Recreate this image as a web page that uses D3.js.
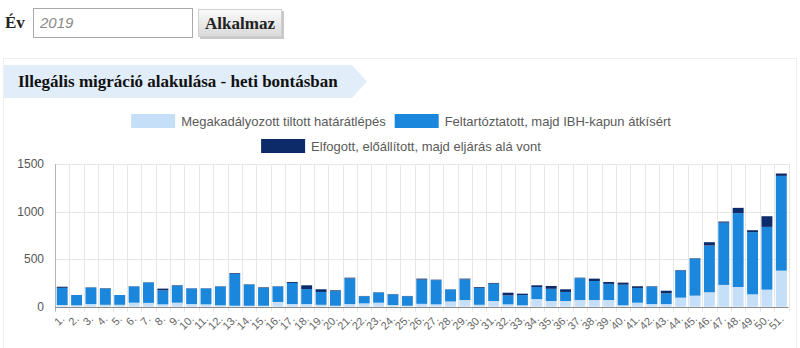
<!DOCTYPE html>
<html>
<head>
<meta charset="utf-8">
<script src="https://cdn.jsdelivr.net/npm/d3@7/dist/d3.min.js"></script>
<style>
  html, body { margin: 0; padding: 0; background: #fff; }
  svg { display: block; }
</style>
</head>
<body>
<svg id="page" width="800" height="348"></svg>
<script>
// Week labels on the category axis
const weeks = ["1.","2.","3.","4.","5.","6.","7.","8.","9.","10.",
  "11.","12.","13.","14.","15.","16.","17.","18.","19.","20.",
  "21.","22.","23.","24.","25.","26.","27.","28.","29.","30.",
  "31.","32.","33.","34.","35.","36.","37.","38.","39.","40.",
  "41.","42.","43.","44.","45.","46.","47.","48.","49.","50.","51."];

// Prevented illegal border crossings
const prevented = [18,15,28,20,20,42,40,25,42,28,
  25,15,10,10,10,50,28,28,20,10,
  28,35,42,18,10,30,25,55,70,20,
  60,25,15,80,60,60,70,70,70,15,
  42,28,28,95,116,152,229,207,130,179,379];

// Stopped, then escorted through the gate
const escorted = [180,108,173,169,103,170,214,147,177,163,
  166,197,334,223,188,162,222,157,135,154,
  269,75,107,112,100,255,254,125,217,179,
  182,94,107,127,128,95,230,200,170,216,
  155,182,112,286,388,491,654,776,654,660,996];

// Apprehended and put under proceedings
const arrested = [12,0,3,5,0,3,3,18,6,3,
  3,3,8,3,6,3,10,40,28,8,
  8,3,3,3,3,10,5,3,8,8,
  8,28,15,18,30,28,5,25,20,22,
  18,5,28,5,5,35,12,56,20,112,25];

const seriesNames = [
  "Megakadályozott tiltott határátlépés",
  "Feltartóztatott, majd IBH-kapun átkísért",
  "Elfogott, előállított, majd eljárás alá vont"
];
const seriesColors = ["#c4dff7", "#1a87dd", "#0c2b68"];
const yTicks = [0, 500, 1000, 1500];

const svg = d3.select("#page");
const serif = "Liberation Serif, serif";
const sans = "Liberation Sans, Arial, sans-serif";

// ---- Year filter form ----
svg.append("text").attr("x", 5).attr("y", 28)
  .attr("font-family", serif).attr("font-weight", "bold")
  .attr("font-size", 17).attr("fill", "#222").text("Év");

svg.append("rect").attr("x", 33.5).attr("y", 8.5).attr("width", 159).attr("height", 29)
  .attr("fill", "#fff").attr("stroke", "#a9a9a9");
svg.append("text").attr("x", 40).attr("y", 28)
  .attr("font-family", sans).attr("font-style", "italic")
  .attr("font-size", 15).attr("fill", "#8a8a8a").text("2019");

const defs = svg.append("defs");
const grad = defs.append("linearGradient").attr("id", "btnGrad")
  .attr("x1", 0).attr("y1", 0).attr("x2", 0).attr("y2", 1);
grad.append("stop").attr("offset", "0%").attr("stop-color", "#fbfbfb");
grad.append("stop").attr("offset", "100%").attr("stop-color", "#d9d9d9");

svg.append("rect").attr("x", 200).attr("y", 11).attr("width", 84).attr("height", 28)
  .attr("fill", "#c8c8c8");
svg.append("rect").attr("x", 198.5).attr("y", 9.5).attr("width", 83).attr("height", 27)
  .attr("fill", "url(#btnGrad)").attr("stroke", "#cfcfcf");
svg.append("text").attr("x", 240).attr("y", 29).attr("text-anchor", "middle")
  .attr("font-family", serif).attr("font-weight", "bold")
  .attr("font-size", 17).attr("fill", "#222").text("Alkalmaz");

// ---- Panel with title banner ----
svg.append("rect").attr("x", 3.5).attr("y", 58.5).attr("width", 793).attr("height", 300)
  .attr("fill", "#fff").attr("stroke", "#efefef");

svg.append("path")
  .attr("d", "M4,65 L352,65 L367,81.5 L352,98 L4,98 Z")
  .attr("fill", "#e1edf9");
svg.append("text").attr("x", 18).attr("y", 87)
  .attr("font-family", serif).attr("font-weight", "bold")
  .attr("font-size", 17).attr("fill", "#111")
  .text("Illegális migráció alakulása - heti bontásban");

// ---- Legend ----
const legendRows = [
  { y: 121, items: [0, 1] },
  { y: 146, items: [2] }
];
const legendSize = 13;
const swW = 44, swH = 14, gapSw = 6, gapItem = 9;
const measure = svg.append("text").attr("font-family", sans).attr("font-size", legendSize)
  .attr("visibility", "hidden");
function textWidth(s) { measure.text(s); return measure.node().getComputedTextLength(); }

legendRows.forEach(row => {
  const widths = row.items.map(i => swW + gapSw + textWidth(seriesNames[i]));
  const total = d3.sum(widths) + gapItem * (row.items.length - 1);
  let x = 400 - total / 2 + 1;
  row.items.forEach((i, k) => {
    svg.append("rect").attr("x", x).attr("y", row.y - swH / 2)
      .attr("width", swW).attr("height", swH).attr("fill", seriesColors[i]);
    svg.append("text").attr("x", x + swW + gapSw).attr("y", row.y + 4.5)
      .attr("font-family", sans).attr("font-size", legendSize).attr("fill", "#5a5a5a")
      .text(seriesNames[i]);
    x += widths[k] + gapItem;
  });
});
measure.remove();

// ---- Chart ----
const plot = { left: 55, right: 788.5, top: 164, bottom: 306.7 };

const x = d3.scaleBand().domain(weeks).range([plot.left, plot.right])
  .paddingInner(0.24).paddingOuter(0.12);
const y = d3.scaleLinear().domain([0, 1500]).range([plot.bottom, plot.top]);

const rows = weeks.map((w, i) => ({ week: w, a: prevented[i], b: escorted[i], c: arrested[i] }));
const stacked = d3.stack().keys(["a", "b", "c"])(rows);

const g = svg.append("g");

// vertical grid lines at category boundaries
const step = x.step();
const bounds = weeks.map((w, i) => plot.left + i * step).concat([plot.right]);
g.append("g").selectAll("line").data(bounds.slice(1)).join("line")
  .attr("x1", d => Math.round(d) + 0.5).attr("x2", d => Math.round(d) + 0.5)
  .attr("y1", plot.top).attr("y2", plot.bottom + 5)
  .attr("stroke", "#e6e6e6");

// horizontal grid lines
g.append("g").selectAll("line").data(yTicks.filter(t => t > 0)).join("line")
  .attr("x1", plot.left).attr("x2", plot.right)
  .attr("y1", d => Math.round(y(d)) + 0.5).attr("y2", d => Math.round(y(d)) + 0.5)
  .attr("stroke", "#e6e6e6");

// y axis labels
g.append("g").selectAll("text").data(yTicks).join("text")
  .attr("x", 44).attr("y", d => y(d) + 4)
  .attr("text-anchor", "end")
  .attr("font-family", sans).attr("font-size", 12).attr("fill", "#555")
  .text(d => d);

// stacked bars
g.append("g").selectAll("g").data(stacked).join("g")
  .attr("fill", (d, i) => seriesColors[i])
  .selectAll("rect").data(d => d).join("rect")
  .attr("x", d => x(d.data.week))
  .attr("width", x.bandwidth())
  .attr("y", d => y(d[1]))
  .attr("height", d => Math.max(0, y(d[0]) - y(d[1])));

// axis lines
g.append("line").attr("x1", plot.left + 0.5).attr("x2", plot.left + 0.5)
  .attr("y1", plot.top).attr("y2", plot.bottom + 5).attr("stroke", "#b5b5b5");
g.append("line").attr("x1", plot.left).attr("x2", plot.right)
  .attr("y1", Math.round(plot.bottom) + 0.5).attr("y2", Math.round(plot.bottom) + 0.5)
  .attr("stroke", "#8c8c8c");

// slanted week labels
g.append("g").selectAll("text").data(weeks).join("text")
  .attr("transform", d => `translate(${x(d) + x.bandwidth() / 2 + 3},${plot.bottom + 13}) rotate(-45)`)
  .attr("text-anchor", "end")
  .attr("font-family", sans).attr("font-size", 11).attr("fill", "#666")
  .text(d => d);
</script>
</body>
</html>
